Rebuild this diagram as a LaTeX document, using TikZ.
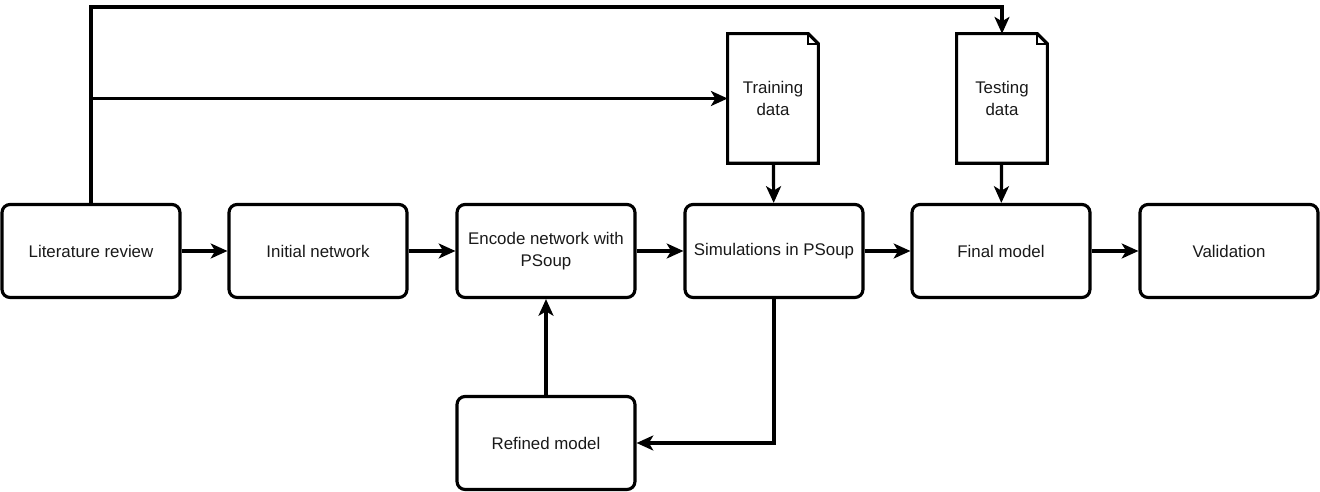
\documentclass[tikz,border=0pt]{standalone}
\usepackage{fontspec}
\setmainfont{Liberation Sans}
\usetikzlibrary{arrows.meta}
\tikzset{
  every node/.style={
    text=black!90,
    font=\fontsize{9.6}{12.2}\selectfont
  },
  stepbox/.style={
    draw, line width=1.8pt, rounded corners=0.16cm,
    minimum width=3.56cm, minimum height=1.86cm,
    align=center, inner sep=2pt
  },
  docbox/.style={
    minimum width=1.8cm, minimum height=2.58cm, align=center
  },
  link/.style={
    line width=1.8pt,
    -{Stealth[length=9.5pt,width=8.5pt,inset=2.5pt]}
  }
}

\begin{document}
\begin{tikzpicture}[x=0.02cm, y=-0.02cm]
    \useasboundingbox (0,0) rectangle (1320,492);

    % main row
    \node[stepbox] (lit) at (91,251) {Literature review};
    \node[stepbox] (init) at (318,251) {Initial network};
    \node[stepbox] (enc) at (546,251) {Encode network with\\PSoup};
    \node[stepbox] (sim) at (774,251) {Simulations in PSoup};
    \node[stepbox] (final) at (1001,251) {Final model};
    \node[stepbox] (valid) at (1229,251) {Validation};
    \node[stepbox] (refined) at (546,443) {Refined model};

    % data documents
    \node[docbox] (train) at (773,98.5) {Training\\data};
    \node[docbox] (test) at (1002,98.5) {Testing\\data};
    \foreach \d in {train,test} {
      \draw[line width=1.8pt, line join=miter]
        (\d.south west) -- (\d.north west) -- ([xshift=-0.2cm]\d.north east)
        -- ([yshift=-0.2cm]\d.north east) -- (\d.south east) -- cycle;
      \draw[line width=1.3pt]
        ([xshift=-0.2cm]\d.north east) -- ([xshift=-0.2cm,yshift=-0.2cm]\d.north east)
        -- ([yshift=-0.2cm]\d.north east);
    }

    \draw[link] (lit) -- (init);
    \draw[link] (init) -- (enc);
    \draw[link] (enc) -- (sim);
    \draw[link] (sim) -- (final);
    \draw[link] (final) -- (valid);

    \draw[link] (train) -- (sim);
    \draw[link] (test) -- (final);
    \draw[link] (sim.south) |- (refined.east);
    \draw[link] (refined) -- (enc);

    % literature feeds both data sets
    \coordinate (topline) at (91,7);
    \draw[link, line join=miter] (lit.north) -- (topline) -| (test.north);
    \draw[link] (lit.north |- train.west) -- (train.west);
\end{tikzpicture}
\end{document}
